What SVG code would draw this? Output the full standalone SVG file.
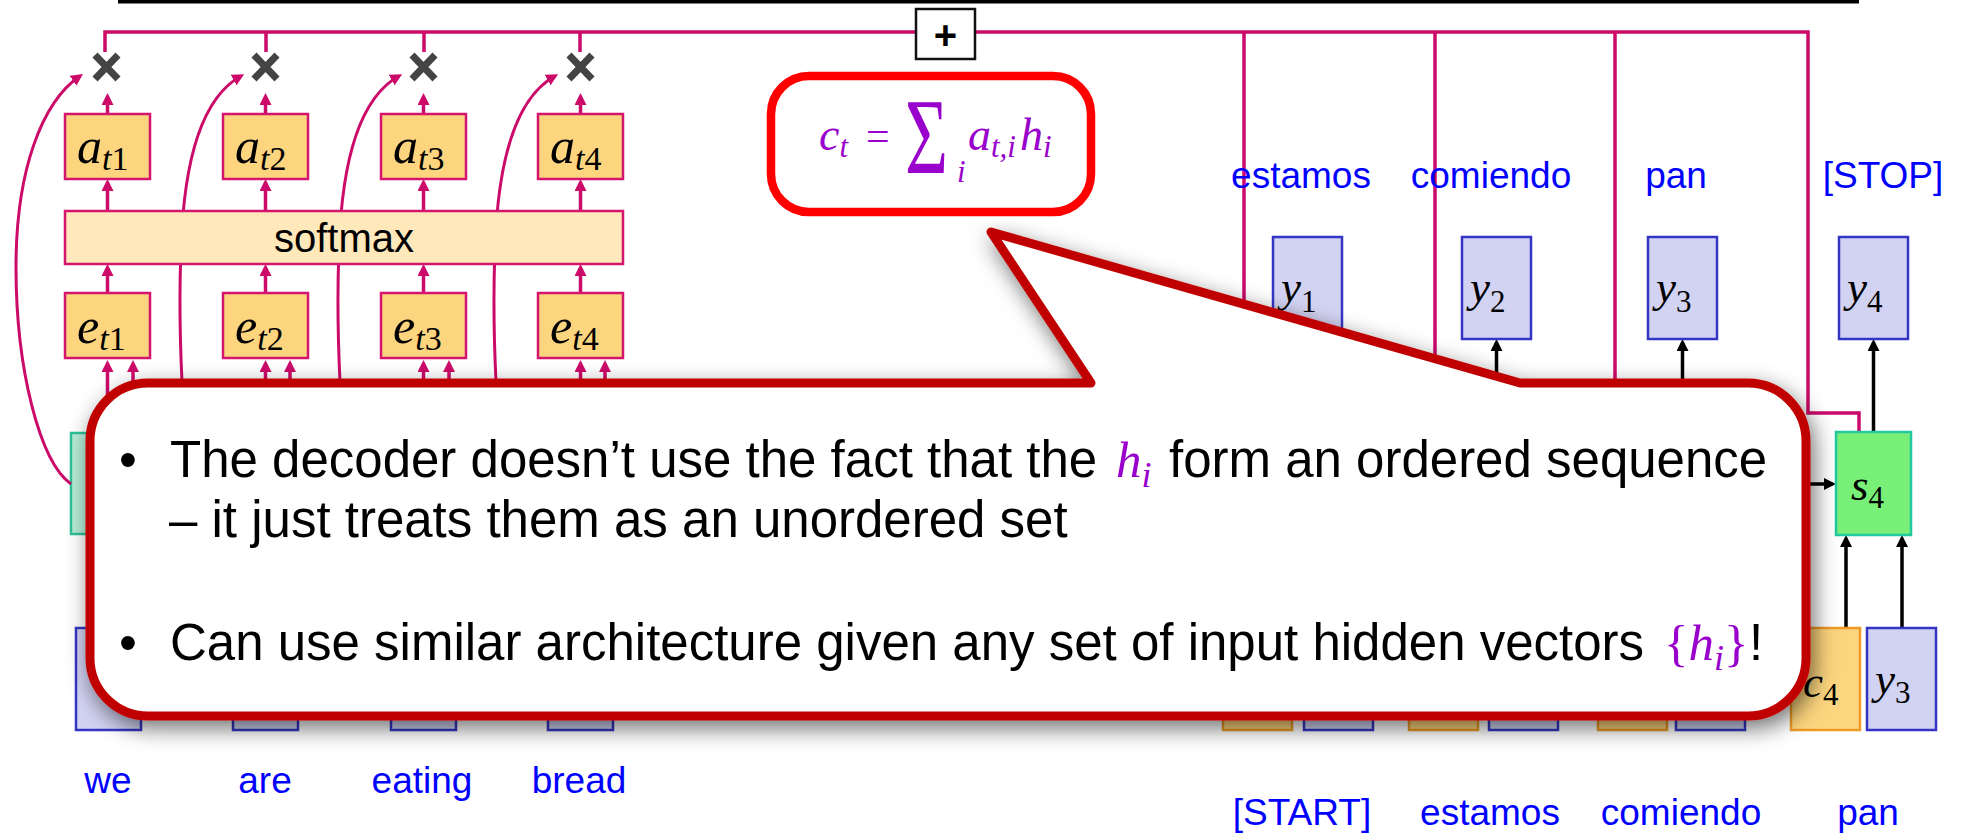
<svg xmlns="http://www.w3.org/2000/svg" width="1965" height="834" viewBox="0 0 1965 834">
<defs>
<style>
.pk{stroke:#CC0A6A;stroke-width:3.5;fill:none}
.pka{stroke:#CC0A6A;stroke-width:3.5;fill:none;marker-end:url(#ap)}
.pkc{stroke:#CC0A6A;stroke-width:3;fill:none;marker-end:url(#ap)}
.bka{stroke:#000;stroke-width:3.5;fill:none;marker-end:url(#ab)}
.ob{fill:#FDD57E;stroke:#D4146E;stroke-width:2.5}
.sm{fill:#FFE8BA;stroke:#D4146E;stroke-width:2.5}
.yb{fill:#D2D2F2;stroke:#3535C5;stroke-width:2.5}
.cb{fill:#FDD57E;stroke:#EE9A25;stroke-width:2.5}
.hb{fill:#B8ECD8;stroke:#2FC196;stroke-width:2.5}
.sb{fill:#78F078;stroke:#22C8A0;stroke-width:2.5}
.mx{stroke:#444;stroke-width:7}
.lbl{font-family:"Liberation Sans",Arial,sans-serif;font-size:37px;fill:#0000FF;text-anchor:middle}
.m{font-family:"Liberation Serif","DejaVu Serif",serif;font-style:italic;font-size:50px;fill:#000}
.my{font-family:"Liberation Serif","DejaVu Serif",serif;font-style:italic;font-size:45px;fill:#000}
.s{font-size:34px}
.s2{font-size:31px}
.n{font-style:normal}
.big{font-family:"Liberation Sans",Arial,sans-serif;font-size:51px;fill:#000}
.pm{font-family:"Liberation Serif","DejaVu Serif",serif;font-size:51px;fill:#9900CC}
.fm{font-family:"Liberation Serif","DejaVu Serif",serif;fill:#9900CC}
</style>
<marker id="ap" viewBox="0 0 10 10" refX="7" refY="5" markerWidth="12" markerHeight="12" markerUnits="userSpaceOnUse" orient="auto"><path d="M0,0 L10,5 L0,10 z" fill="#CC0A6A"/></marker>
<marker id="ab" viewBox="0 0 10 10" refX="7" refY="5" markerWidth="12" markerHeight="12" markerUnits="userSpaceOnUse" orient="auto"><path d="M0,0 L10,5 L0,10 z" fill="#000"/></marker>
<filter id="sh" x="-5%" y="-20%" width="110%" height="140%">
<feDropShadow dx="4" dy="8" stdDeviation="11" flood-color="#000" flood-opacity="0.55"/>
</filter>
</defs>
<rect width="1965" height="834" fill="#fff"/>
<rect x="118" y="0" width="1741" height="3.5" fill="#000"/>

<g id="h1"><rect class="hb" x="71" y="433" width="65" height="101"/></g>
<g id="x-boxes">
<rect class="yb" x="76" y="628" width="65" height="102"/>
<rect class="yb" x="233" y="628" width="65" height="102"/>
<rect class="yb" x="391" y="628" width="65" height="102"/>
<rect class="yb" x="548" y="628" width="65" height="102"/>
</g>
<g id="dec-inputs">
<rect class="cb" x="1223" y="628" width="69" height="102"/>
<rect class="yb" x="1304" y="628" width="69" height="102"/>
<rect class="cb" x="1409" y="628" width="69" height="102"/>
<rect class="yb" x="1489" y="628" width="69" height="102"/>
<rect class="cb" x="1598" y="628" width="69" height="102"/>
<rect class="yb" x="1676" y="628" width="69" height="102"/>
</g>

<g id="connectors">
<path class="pk" d="M105,52 V32 H1808 V413 H1859 V432"/>
<path class="pk" d="M266,32 V52 M424,32 V52 M580,32 V52 M1244,32 V420 M1435,32 V420 M1615,32 V420"/>
<path class="pka" d="M107.5,114 V96.6"/>
<path class="pka" d="M265.5,114 V96.6"/>
<path class="pka" d="M423.5,114 V96.6"/>
<path class="pka" d="M580.5,114 V96.6"/>
<path class="pka" d="M107.5,211 V182.6"/>
<path class="pka" d="M265.5,211 V182.6"/>
<path class="pka" d="M423.5,211 V182.6"/>
<path class="pka" d="M580.5,211 V182.6"/>
<path class="pka" d="M107.5,293 V267.6"/>
<path class="pka" d="M265.5,293 V267.6"/>
<path class="pka" d="M423.5,293 V267.6"/>
<path class="pka" d="M580.5,293 V267.6"/>
<path class="pka" d="M107.5,430 V363.6"/>
<path class="pka" d="M133,430 V363.6"/>
<path class="pka" d="M265.5,430 V363.6"/>
<path class="pka" d="M290,430 V363.6"/>
<path class="pka" d="M423.5,430 V363.6"/>
<path class="pka" d="M449,430 V363.6"/>
<path class="pka" d="M580.5,430 V363.6"/>
<path class="pka" d="M605,430 V363.6"/>
<path class="pkc" d="M71,484 C40,462 16,370 16,267 C16,170 42,102 80,76"/>
<path class="pkc" d="M188,470 C182,400 178,320 181,250 C184,150 205,96 241,76"/>
<path class="pkc" d="M346,470 C340,400 336,320 339,250 C342,150 363,96 399,76"/>
<path class="pkc" d="M502,470 C496,400 492,320 495,250 C498,150 519,96 555,76"/>
<path class="bka" d="M1496.5,430 V342.6"/>
<path class="bka" d="M1682.5,430 V342.6"/>
<path class="bka" d="M1873.5,432 V342.6"/>
<path class="bka" d="M1790,484 H1832.4"/>
<path class="bka" d="M1846,628 V538.6"/>
<path class="bka" d="M1902,628 V538.6"/>
</g>

<g id="mult">
<path class="mx" d="M95,55 L118,79 M118,55 L95,79"/>
<path class="mx" d="M254,55 L277,79 M277,55 L254,79"/>
<path class="mx" d="M412,55 L435,79 M435,55 L412,79"/>
<path class="mx" d="M569,55 L592,79 M592,55 L569,79"/>
</g>

<g id="plus">
<rect x="916" y="9" width="59" height="50" fill="#fff" stroke="#111" stroke-width="2.5"/>
<text x="945.5" y="49" font-family="Liberation Sans, Arial, sans-serif" font-size="40" font-weight="bold" text-anchor="middle" fill="#000">+</text>
</g>

<g id="a-boxes">
<rect class="ob" x="65" y="114" width="85" height="65"/>
<rect class="ob" x="223" y="114" width="85" height="65"/>
<rect class="ob" x="381" y="114" width="85" height="65"/>
<rect class="ob" x="538" y="114" width="85" height="65"/>
<text class="m" x="77" y="163">a<tspan class="s" dy="7">t</tspan><tspan class="s n">1</tspan></text>
<text class="m" x="235" y="163">a<tspan class="s" dy="7">t</tspan><tspan class="s n">2</tspan></text>
<text class="m" x="393" y="163">a<tspan class="s" dy="7">t</tspan><tspan class="s n">3</tspan></text>
<text class="m" x="550" y="163">a<tspan class="s" dy="7">t</tspan><tspan class="s n">4</tspan></text>
</g>
<g id="softmax">
<rect class="sm" x="65" y="211" width="558" height="53"/>
<text x="344" y="252" font-family="Liberation Sans, Arial, sans-serif" font-size="40" text-anchor="middle" fill="#000">softmax</text>
</g>
<g id="e-boxes">
<rect class="ob" x="65" y="293" width="85" height="65"/>
<rect class="ob" x="223" y="293" width="85" height="65"/>
<rect class="ob" x="381" y="293" width="85" height="65"/>
<rect class="ob" x="538" y="293" width="85" height="65"/>
<text class="m" x="77" y="343">e<tspan class="s" dy="7">t</tspan><tspan class="s n">1</tspan></text>
<text class="m" x="235" y="343">e<tspan class="s" dy="7">t</tspan><tspan class="s n">2</tspan></text>
<text class="m" x="393" y="343">e<tspan class="s" dy="7">t</tspan><tspan class="s n">3</tspan></text>
<text class="m" x="550" y="343">e<tspan class="s" dy="7">t</tspan><tspan class="s n">4</tspan></text>
</g>

<g id="y-outputs">
<rect class="yb" x="1273" y="237" width="69" height="102"/>
<rect class="yb" x="1462" y="237" width="69" height="102"/>
<rect class="yb" x="1648" y="237" width="69" height="102"/>
<rect class="yb" x="1839" y="237" width="69" height="102"/>
<text class="my" x="1281" y="302">y<tspan class="s2 n" dy="10">1</tspan></text>
<text class="my" x="1470" y="302">y<tspan class="s2 n" dy="10">2</tspan></text>
<text class="my" x="1656" y="302">y<tspan class="s2 n" dy="10">3</tspan></text>
<text class="my" x="1847" y="302">y<tspan class="s2 n" dy="10">4</tspan></text>
</g>
<g id="s4">
<rect class="sb" x="1836" y="432" width="75" height="103"/>
<text class="my" x="1851" y="500">s<tspan class="s2 n" dy="8">4</tspan></text>
</g>
<g id="c4">
<rect class="cb" x="1791" y="628" width="69" height="102"/>
<text class="my" x="1803" y="697">c<tspan class="s2 n" dy="8">4</tspan></text>
</g>
<g id="y3in">
<rect class="yb" x="1867" y="628" width="69" height="102"/>
<text class="my" x="1875" y="694">y<tspan class="s2 n" dy="9">3</tspan></text>
</g>

<g id="labels">
<text class="lbl" x="108" y="793">we</text>
<text class="lbl" x="265" y="793">are</text>
<text class="lbl" x="422" y="793">eating</text>
<text class="lbl" x="579" y="793">bread</text>
<text class="lbl" x="1301" y="188">estamos</text>
<text class="lbl" x="1491" y="188">comiendo</text>
<text class="lbl" x="1676" y="188">pan</text>
<text class="lbl" x="1883" y="188">[STOP]</text>
<text class="lbl" x="1302" y="825">[START]</text>
<text class="lbl" x="1490" y="825">estamos</text>
<text class="lbl" x="1681" y="825">comiendo</text>
<text class="lbl" x="1868" y="825">pan</text>
</g>

<g id="formula">
<rect x="771" y="76" width="320" height="136" rx="38" fill="#fff" stroke="#FF0000" stroke-width="8.5"/>
<text class="fm" x="819" y="150" style="font-size:46px;font-style:italic">c<tspan style="font-size:31px" dy="7">t</tspan></text>
<text class="fm" x="866" y="150" style="font-size:42px">=</text>
<text class="fm" transform="translate(905,173) scale(1,1.45)" style="font-size:74px">Σ</text>
<text class="fm" x="957" y="182" style="font-size:31px;font-style:italic">i</text>
<text class="fm" x="968" y="150" style="font-size:46px;font-style:italic">a<tspan style="font-size:31px" dy="7">t,i</tspan></text>
<text class="fm" x="1020" y="150" style="font-size:46px;font-style:italic">h<tspan style="font-size:31px" dy="7">i</tspan></text>
</g>

<g id="callout" filter="url(#sh)">
<path d="M1091,383 L991,232 L1520,383 L1748,383 A58,58 0 0 1 1806,441 L1806,658 A58,58 0 0 1 1748,716 L148,716 A58,58 0 0 1 90,658 L90,441 A58,58 0 0 1 148,383 Z" fill="#fff" stroke="#C00000" stroke-width="9" stroke-linejoin="round"/>
</g>
<g id="callout-text">
<text class="big" x="119" y="477">•</text>
<text class="big" x="170" y="477">The decoder doesn’t use the fact that the</text>
<text class="pm" x="1116" y="477" font-style="italic">h<tspan font-size="36" dy="10">i</tspan></text>
<text class="big" x="1169" y="477">form an ordered sequence</text>
<text class="big" x="169" y="537">– it just treats them as an unordered set</text>
<text class="big" x="119" y="660">•</text>
<text class="big" x="170" y="660">Can use similar architecture given any set of input hidden vectors</text>
<text class="pm" x="1664" y="660">{<tspan font-style="italic">h</tspan><tspan font-style="italic" font-size="36" dy="10">i</tspan><tspan dy="-10">}</tspan></text>
<text class="big" x="1749" y="660">!</text>
</g>
</svg>
